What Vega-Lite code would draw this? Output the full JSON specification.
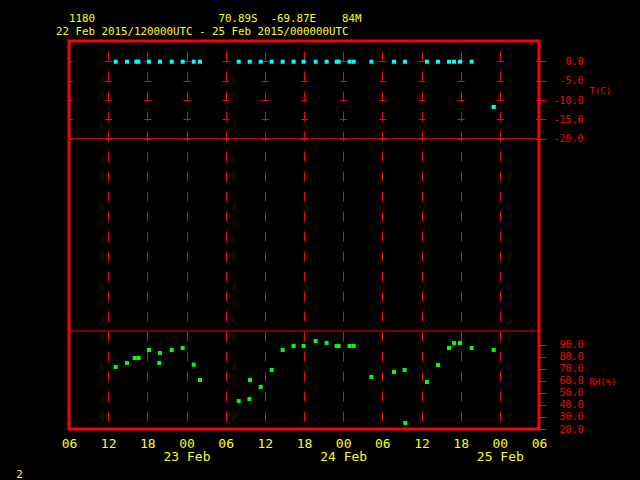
{
  "$schema": "https://vega.github.io/schema/vega-lite/v6.json",
  "width": 470,
  "height": 388,
  "autosize": "none",
  "padding": {"left": 69, "top": 41, "right": 101, "bottom": 51},
  "background": "#000000",
  "config": {
    "view": {"stroke": "#ff0000", "strokeWidth": 3},
    "axisX": {
      "domain": false,
      "ticks": false,
      "labelColor": "#ffff00",
      "labelFont": "DejaVu Sans Mono",
      "labelFontSize": 13,
      "labelLineHeight": 13.5,
      "labelPadding": 8,
      "labelFlush": false,
      "labelOverlap": false,
      "labelBound": false,
      "grid": true,
      "gridColor": "#ff0000",
      "gridWidth": 1,
      "gridDash": [10, 10],
      "gridDashOffset": 10,
      "titleX": -50,
      "titleY": 45,
      "titleAlign": "center",
      "titleBaseline": "middle",
      "titleColor": "#ffff00",
      "titleFont": "DejaVu Sans Mono",
      "titleFontSize": 11,
      "titleFontWeight": "normal"
    },
    "axisY": {
      "domain": false,
      "ticks": true,
      "tickSize": 7,
      "tickColor": "#ff0000",
      "tickWidth": 1,
      "labelColor": "#ff0000",
      "labelFont": "DejaVu Sans Mono",
      "labelFontSize": 10,
      "labelAlign": "right",
      "labelBaseline": "middle",
      "labelPadding": 37,
      "grid": true,
      "gridColor": "#ff0000",
      "gridWidth": 1.2,
      "gridDash": [7, 32.1667],
      "gridDashOffset": 3.5,
      "titleColor": "#ff0000",
      "titleFont": "DejaVu Sans Mono",
      "titleFontSize": 9,
      "titleFontWeight": "normal",
      "titleAngle": 0,
      "titleAlign": "left",
      "titleBaseline": "middle",
      "titleX": 50
    }
  },
  "title": {
    "text": ["\u200b\u00a0\u00a01180\u00a0\u00a0\u00a0\u00a0\u00a0\u00a0\u00a0\u00a0\u00a0\u00a0\u00a0\u00a0\u00a0\u00a0\u00a0\u00a0\u00a0\u00a0\u00a070.89S\u00a0\u00a0-69.87E\u00a0\u00a0\u00a0\u00a084M", "22\u00a0Feb\u00a02015/120000UTC\u00a0-\u00a025\u00a0Feb\u00a02015/000000UTC"],
    "anchor": "start",
    "frame": "group",
    "color": "#ffff00",
    "font": "DejaVu Sans Mono",
    "fontSize": 10.8,
    "fontWeight": "normal",
    "dx": -13,
    "offset": -5,
    "lineHeight": 13,
    "baseline": "alphabetic"
  },
  "datasets": {
    "temp": [
      {"t": "2015-02-22T13:09:00Z", "T": -0.1},
      {"t": "2015-02-22T14:53:00Z", "T": -0.1},
      {"t": "2015-02-22T16:19:00Z", "T": -0.1},
      {"t": "2015-02-22T16:38:00Z", "T": -0.1},
      {"t": "2015-02-22T18:15:00Z", "T": -0.1},
      {"t": "2015-02-22T19:56:00Z", "T": -0.1},
      {"t": "2015-02-22T21:44:00Z", "T": -0.1},
      {"t": "2015-02-22T23:25:00Z", "T": -0.1},
      {"t": "2015-02-23T01:06:00Z", "T": -0.1},
      {"t": "2015-02-23T02:04:00Z", "T": -0.1},
      {"t": "2015-02-23T08:00:00Z", "T": -0.1},
      {"t": "2015-02-23T09:41:00Z", "T": -0.1},
      {"t": "2015-02-23T11:22:00Z", "T": -0.1},
      {"t": "2015-02-23T13:03:00Z", "T": -0.1},
      {"t": "2015-02-23T14:44:00Z", "T": -0.1},
      {"t": "2015-02-23T16:25:00Z", "T": -0.1},
      {"t": "2015-02-23T17:57:00Z", "T": -0.1},
      {"t": "2015-02-23T19:47:00Z", "T": -0.1},
      {"t": "2015-02-23T21:28:00Z", "T": -0.1},
      {"t": "2015-02-23T23:00:00Z", "T": -0.1},
      {"t": "2015-02-23T23:19:00Z", "T": -0.1},
      {"t": "2015-02-24T00:59:00Z", "T": -0.1},
      {"t": "2015-02-24T01:37:00Z", "T": -0.1},
      {"t": "2015-02-24T04:19:00Z", "T": -0.1},
      {"t": "2015-02-24T07:47:00Z", "T": -0.1},
      {"t": "2015-02-24T09:28:00Z", "T": -0.1},
      {"t": "2015-02-24T12:50:00Z", "T": -0.1},
      {"t": "2015-02-24T14:32:00Z", "T": -0.1},
      {"t": "2015-02-24T16:13:00Z", "T": -0.1},
      {"t": "2015-02-24T16:59:00Z", "T": -0.1},
      {"t": "2015-02-24T17:54:00Z", "T": -0.1},
      {"t": "2015-02-24T19:41:00Z", "T": -0.1},
      {"t": "2015-02-24T23:04:00Z", "T": -11.8}
    ],
    "rh": [
      {"t": "2015-02-22T13:09:00Z", "RH": 71.5},
      {"t": "2015-02-22T14:53:00Z", "RH": 74.8},
      {"t": "2015-02-22T16:04:00Z", "RH": 78.9},
      {"t": "2015-02-22T16:41:00Z", "RH": 78.9},
      {"t": "2015-02-22T18:15:00Z", "RH": 85.6},
      {"t": "2015-02-22T19:56:00Z", "RH": 83.1},
      {"t": "2015-02-22T19:50:00Z", "RH": 74.8},
      {"t": "2015-02-22T21:44:00Z", "RH": 85.6},
      {"t": "2015-02-22T23:25:00Z", "RH": 87.2},
      {"t": "2015-02-23T01:06:00Z", "RH": 73.4},
      {"t": "2015-02-23T02:04:00Z", "RH": 60.7},
      {"t": "2015-02-23T08:00:00Z", "RH": 43.2},
      {"t": "2015-02-23T09:38:00Z", "RH": 44.9},
      {"t": "2015-02-23T09:44:00Z", "RH": 60.7},
      {"t": "2015-02-23T11:22:00Z", "RH": 54.9},
      {"t": "2015-02-23T13:03:00Z", "RH": 69.0},
      {"t": "2015-02-23T14:44:00Z", "RH": 85.6},
      {"t": "2015-02-23T16:25:00Z", "RH": 88.9},
      {"t": "2015-02-23T17:57:00Z", "RH": 88.9},
      {"t": "2015-02-23T19:47:00Z", "RH": 93.0},
      {"t": "2015-02-23T21:28:00Z", "RH": 91.4},
      {"t": "2015-02-23T23:00:00Z", "RH": 88.9},
      {"t": "2015-02-23T23:19:00Z", "RH": 88.9},
      {"t": "2015-02-24T00:59:00Z", "RH": 88.9},
      {"t": "2015-02-24T01:37:00Z", "RH": 88.9},
      {"t": "2015-02-24T04:19:00Z", "RH": 63.2},
      {"t": "2015-02-24T07:47:00Z", "RH": 67.3},
      {"t": "2015-02-24T09:25:00Z", "RH": 69.0},
      {"t": "2015-02-24T09:31:00Z", "RH": 25.0},
      {"t": "2015-02-24T12:50:00Z", "RH": 59.0},
      {"t": "2015-02-24T14:32:00Z", "RH": 73.1},
      {"t": "2015-02-24T16:13:00Z", "RH": 87.2},
      {"t": "2015-02-24T16:59:00Z", "RH": 91.4},
      {"t": "2015-02-24T17:54:00Z", "RH": 91.4},
      {"t": "2015-02-24T19:41:00Z", "RH": 87.2},
      {"t": "2015-02-24T23:04:00Z", "RH": 85.6}
    ]
  },
  "layer": [
    {
      "layer": [
        {
          "data": {"name": "temp"},
          "mark": {"type": "square", "size": 16, "color": "#00ffff", "opacity": 1},
          "encoding": {
            "x": {
              "field": "t", "type": "temporal",
              "scale": {"type": "utc", "domain": [
                {"year": 2015, "month": "feb", "date": 22, "hours": 6, "utc": true},
                {"year": 2015, "month": "feb", "date": 25, "hours": 6, "utc": true}
              ]},
              "axis": {
                "values": [
                  {"year": 2015, "month": "feb", "date": 22, "hours": 6, "utc": true},
                  {"year": 2015, "month": "feb", "date": 22, "hours": 12, "utc": true},
                  {"year": 2015, "month": "feb", "date": 22, "hours": 18, "utc": true},
                  {"year": 2015, "month": "feb", "date": 23, "hours": 0, "utc": true},
                  {"year": 2015, "month": "feb", "date": 23, "hours": 6, "utc": true},
                  {"year": 2015, "month": "feb", "date": 23, "hours": 12, "utc": true},
                  {"year": 2015, "month": "feb", "date": 23, "hours": 18, "utc": true},
                  {"year": 2015, "month": "feb", "date": 24, "hours": 0, "utc": true},
                  {"year": 2015, "month": "feb", "date": 24, "hours": 6, "utc": true},
                  {"year": 2015, "month": "feb", "date": 24, "hours": 12, "utc": true},
                  {"year": 2015, "month": "feb", "date": 24, "hours": 18, "utc": true},
                  {"year": 2015, "month": "feb", "date": 25, "hours": 0, "utc": true},
                  {"year": 2015, "month": "feb", "date": 25, "hours": 6, "utc": true}
                ],
                "labelExpr": "utcFormat(datum.value, '%H') == '00' ? ['00', utcFormat(datum.value, '%d %b')] : utcFormat(datum.value, '%H')",
                "title": "2"
              }
            },
            "y": {
              "field": "T", "type": "quantitative",
              "scale": {"domain": [-95, 5.25], "nice": false, "zero": false},
              "axis": {
                "orient": "right",
                "values": [0, -5, -10, -15, -20],
                "labelExpr": "(datum.value < 0 ? '-' : '') + format(abs(datum.value), '.1f')",
                "title": "T(C)",
                "titleY": 49
              }
            }
          }
        },
        {
          "data": {"values": [{}]},
          "mark": {"type": "rule", "color": "#ff0000", "strokeWidth": 1},
          "encoding": {"y": {"datum": -20}}
        }
      ]
    },
    {
      "layer": [
        {
          "data": {"name": "rh"},
          "mark": {"type": "square", "size": 16, "color": "#00ff00", "opacity": 1},
          "encoding": {
            "x": {
              "field": "t", "type": "temporal",
              "axis": {
                "values": [
                  {"year": 2015, "month": "feb", "date": 22, "hours": 6, "utc": true},
                  {"year": 2015, "month": "feb", "date": 22, "hours": 12, "utc": true},
                  {"year": 2015, "month": "feb", "date": 22, "hours": 18, "utc": true},
                  {"year": 2015, "month": "feb", "date": 23, "hours": 0, "utc": true},
                  {"year": 2015, "month": "feb", "date": 23, "hours": 6, "utc": true},
                  {"year": 2015, "month": "feb", "date": 23, "hours": 12, "utc": true},
                  {"year": 2015, "month": "feb", "date": 23, "hours": 18, "utc": true},
                  {"year": 2015, "month": "feb", "date": 24, "hours": 0, "utc": true},
                  {"year": 2015, "month": "feb", "date": 24, "hours": 6, "utc": true},
                  {"year": 2015, "month": "feb", "date": 24, "hours": 12, "utc": true},
                  {"year": 2015, "month": "feb", "date": 24, "hours": 18, "utc": true},
                  {"year": 2015, "month": "feb", "date": 25, "hours": 0, "utc": true},
                  {"year": 2015, "month": "feb", "date": 25, "hours": 6, "utc": true}
                ],
                "labelExpr": "utcFormat(datum.value, '%H') == '00' ? ['00', utcFormat(datum.value, '%d %b')] : utcFormat(datum.value, '%H')",
                "title": "2"
              }
            },
            "y": {
              "field": "RH", "type": "quantitative",
              "scale": {"domain": [20, 342], "nice": false, "zero": false},
              "axis": {
                "orient": "right",
                "values": [90, 80, 70, 60, 50, 40, 30, 20],
                "labelExpr": "format(datum.value, '.1f')",
                "title": "RH(%)",
                "titleY": 340
              }
            }
          }
        },
        {
          "data": {"values": [{}]},
          "mark": {"type": "rule", "color": "#ff0000", "strokeWidth": 1},
          "encoding": {"y": {"datum": 101.3}}
        }
      ]
    }
  ],
  "resolve": {"scale": {"y": "independent"}, "axis": {"y": "independent"}}
}
